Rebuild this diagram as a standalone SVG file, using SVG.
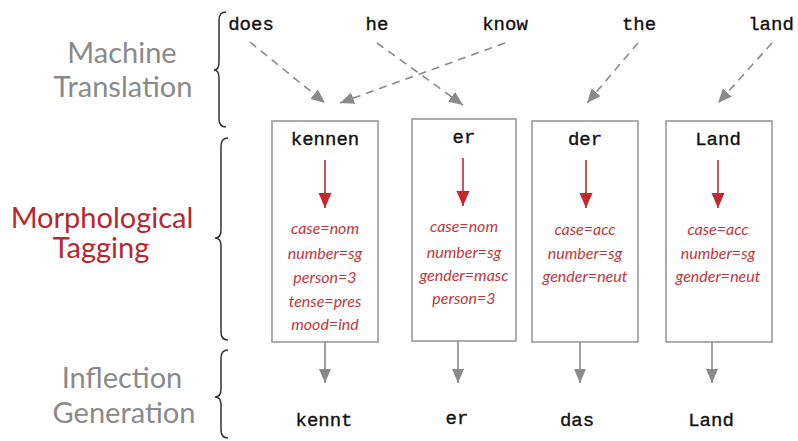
<svg xmlns="http://www.w3.org/2000/svg" width="798" height="441" viewBox="0 0 798 441">
<defs>
<style>
.mono{font-family:"Liberation Mono","Courier New",monospace;font-size:19px;fill:#111;stroke:#111;stroke-width:0.35;text-anchor:middle}
.stage{font-family:Lato,"Noto Sans",sans-serif;font-size:29px;fill:#8a8a8a;text-anchor:middle}
.red{fill:#b8272d}
.tag{font-family:Lato,"Noto Sans",sans-serif;font-style:italic;font-size:16px;fill:#c4363b;text-anchor:middle}
.box{fill:#fff;stroke:#9a9a9a;stroke-width:1.6}
.brace{fill:none;stroke:#333;stroke-width:1.5}
.dash{fill:none;stroke:#8a8a8a;stroke-width:1.6;stroke-dasharray:8 6}
.solid{fill:none;stroke:#8a8a8a;stroke-width:1.6}
.redl{fill:none;stroke:#c4282e;stroke-width:1.6}
</style>
<marker id="ag" markerUnits="userSpaceOnUse" markerWidth="16" markerHeight="12" refX="14" refY="6" orient="auto"><path d="M0,0 L14,6 L0,12 z" fill="#8a8a8a"/></marker>
<marker id="ar" markerUnits="userSpaceOnUse" markerWidth="16" markerHeight="14" refX="15" refY="6.5" orient="auto"><path d="M0,0 L15,6.5 L0,13 z" fill="#c4282e"/></marker>
</defs>
<rect width="798" height="441" fill="#fff"/>

<g id="labels">
<text class="stage" x="122" y="63">Machine</text>
<text class="stage" x="123" y="97">Translation</text>
<text class="stage red" x="102" y="228">Morphological</text>
<text class="stage red" x="101" y="258">Tagging</text>
<text class="stage" x="122" y="388">Inflection</text>
<text class="stage" x="124" y="423">Generation</text>
</g>

<g id="braces">
<path class="brace" d="M226,12 Q219,12 219,20 L219,62 Q219,70 214,70 Q219,70 219,78 L219,119 Q219,127 226,127"/>
<path class="brace" d="M228,138 Q221,138 221,146 L221,230 Q221,238 215,238 Q221,238 221,246 L221,332 Q221,340 228,340"/>
<path class="brace" d="M228,350 Q221,350 221,358 L221,389 Q221,397 215,397 Q221,397 221,405 L221,430 Q221,438 228,438"/>
</g>

<g id="source-words">
<text class="mono" x="251" y="30">does</text>
<text class="mono" x="377" y="30">he</text>
<text class="mono" x="505" y="30">know</text>
<text class="mono" x="639" y="30">the</text>
<text class="mono" x="771" y="30">land</text>
</g>

<g id="node-kennen">
<rect class="box" x="272" y="121" width="106" height="221"/>
<text class="mono" x="325" y="145">kennen</text>
<line class="redl" x1="325" y1="160" x2="325" y2="208" marker-end="url(#ar)"/>
<text class="tag" x="325" y="234">case=nom</text>
<text class="tag" x="325" y="259">number=sg</text>
<text class="tag" x="325" y="283">person=3</text>
<text class="tag" x="325" y="307">tense=pres</text>
<text class="tag" x="325" y="330">mood=ind</text>
</g>

<g id="node-er">
<rect class="box" x="412" y="119" width="104" height="222"/>
<text class="mono" x="464" y="143">er</text>
<line class="redl" x1="463" y1="158" x2="463" y2="206" marker-end="url(#ar)"/>
<text class="tag" x="464" y="232">case=nom</text>
<text class="tag" x="464" y="258">number=sg</text>
<text class="tag" x="464" y="281">gender=masc</text>
<text class="tag" x="464" y="304">person=3</text>
</g>

<g id="node-der">
<rect class="box" x="532" y="121" width="106" height="221"/>
<text class="mono" x="585" y="145">der</text>
<line class="redl" x1="586" y1="160" x2="586" y2="208" marker-end="url(#ar)"/>
<text class="tag" x="585" y="235">case=acc</text>
<text class="tag" x="585" y="259">number=sg</text>
<text class="tag" x="585" y="282">gender=neut</text>
</g>

<g id="node-land">
<rect class="box" x="666" y="121" width="106" height="221"/>
<text class="mono" x="718" y="145">Land</text>
<line class="redl" x1="718" y1="160" x2="718" y2="208" marker-end="url(#ar)"/>
<text class="tag" x="718" y="235">case=acc</text>
<text class="tag" x="718" y="259">number=sg</text>
<text class="tag" x="718" y="282">gender=neut</text>
</g>

<g id="target-words">
<text class="mono" x="324" y="426">kennt</text>
<text class="mono" x="457" y="424">er</text>
<text class="mono" x="577" y="426">das</text>
<text class="mono" x="711" y="426">Land</text>
</g>

<g id="connectors">
<line class="dash" x1="250" y1="42" x2="325" y2="103" marker-end="url(#ag)"/>
<line class="dash" x1="505" y1="43" x2="340" y2="103" marker-end="url(#ag)"/>
<line class="dash" x1="377" y1="43" x2="463" y2="105" marker-end="url(#ag)"/>
<line class="dash" x1="638" y1="43" x2="587" y2="103" marker-end="url(#ag)"/>
<line class="dash" x1="772" y1="43" x2="718" y2="103" marker-end="url(#ag)"/>
<line class="solid" x1="325" y1="342" x2="325" y2="383" marker-end="url(#ag)"/>
<line class="solid" x1="458" y1="341" x2="458" y2="383" marker-end="url(#ag)"/>
<line class="solid" x1="580" y1="342" x2="580" y2="383" marker-end="url(#ag)"/>
<line class="solid" x1="712" y1="342" x2="712" y2="383" marker-end="url(#ag)"/>
</g>
</svg>
